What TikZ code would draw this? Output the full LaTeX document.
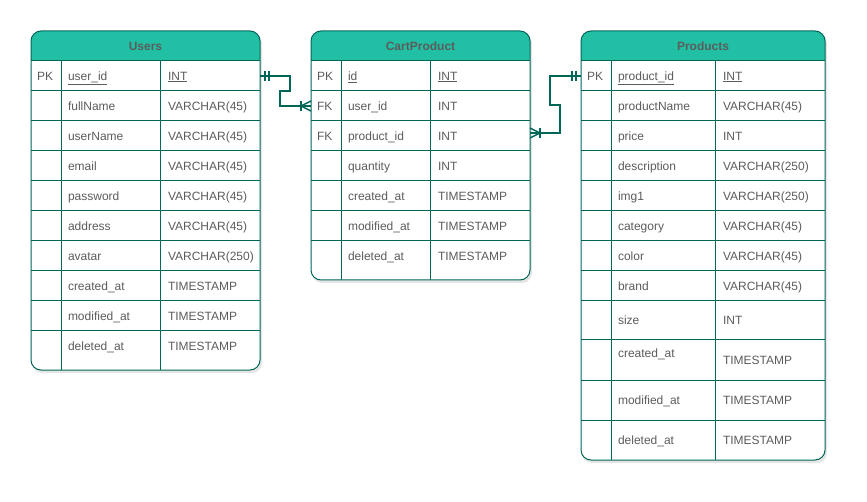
\documentclass[tikz,border=0pt]{standalone}
\usepackage{fontspec}
\setmainfont{Liberation Sans}
\definecolor{hdr}{HTML}{21C0A5}
\definecolor{edgec}{HTML}{006658}
\definecolor{txt}{HTML}{5C5C5C}
\tikzset{
 frame/.style={draw=edgec, line width=1pt, rounded corners=10pt},
 gridline/.style={draw=edgec, line width=1pt},
 cell/.style={inner sep=0pt, outer sep=0pt, text=txt, font=\fontsize{12}{14}\selectfont, anchor=base west},
 titletext/.style={inner sep=0pt, text=txt, font=\fontsize{12}{14}\selectfont\bfseries},
 rowbox/.style={inner sep=0pt, outer sep=0pt, minimum height=30pt},
 conn/.style={draw=edgec, line width=1.5pt},
 shade/.style={fill=black, opacity=0.10, rounded corners=10pt},
}
\begin{document}
\begin{tikzpicture}[x=1pt,y=-1pt]
\fill[white] (0,0) rectangle (867,502);
\useasboundingbox (0,0) rectangle (867,502);

% ---------------- Users ----------------
\fill[shade] (32,33) rectangle (262,373);
\fill[white, rounded corners=10pt] (31,31) rectangle (260,370);
\begin{scope}
\clip[rounded corners=10pt] (31,31) rectangle (260,370);
\fill[hdr] (31,31) rectangle (260,61);
\end{scope}
\foreach \yy in {61,91,...,331} \draw[gridline] (31,\yy) -- (260,\yy);
\draw[gridline] (61,61) -- (61,370);
\draw[gridline] (160,61) -- (160,370);
\draw[frame] (31,31) rectangle (260,370);
\node[titletext] (u-title) at (145.5,46) {Users};
\node[rowbox, minimum width=229pt] (u-r0) at (145.5,76) {};
\node[cell] (u-pk) at (37,80.3) {PK};
\node[cell] (u-n0) at (68,80.3) {\underline{user\_id}};
\node[cell] (u-t0) at (168,80.3) {\underline{INT}};
\foreach \n/\t [count=\i] in {fullName/VARCHAR(45), userName/VARCHAR(45), email/VARCHAR(45), password/VARCHAR(45), address/VARCHAR(45), avatar/VARCHAR(250), created\_at/TIMESTAMP, modified\_at/TIMESTAMP, deleted\_at/TIMESTAMP} {
  \node[rowbox, minimum width=229pt] (u-r\i) at (145.5,{76+30*\i}) {};
  \node[cell] (u-n\i) at (68,{80.3+30*\i}) {\n};
  \node[cell] (u-t\i) at (168,{80.3+30*\i}) {\t};
}

% ---------------- CartProduct ----------------
\fill[shade] (312,33) rectangle (532,283);
\fill[white, rounded corners=10pt] (311,31) rectangle (530,280);
\begin{scope}
\clip[rounded corners=10pt] (311,31) rectangle (530,280);
\fill[hdr] (311,31) rectangle (530,61);
\end{scope}
\foreach \yy in {61,91,...,241} \draw[gridline] (311,\yy) -- (530,\yy);
\draw[gridline] (341,61) -- (341,280);
\draw[gridline] (430,61) -- (430,280);
\draw[frame] (311,31) rectangle (530,280);
\node[titletext] (c-title) at (420.5,46) {CartProduct};
\node[rowbox, minimum width=219pt] (c-r0) at (420.5,76) {};
\node[cell] (c-pk) at (317,80.3) {PK};
\node[cell] (c-n0) at (348,80.3) {\underline{id}};
\node[cell] (c-t0) at (438,80.3) {\underline{INT}};
\node[cell] (c-fk1) at (317,110.3) {FK};
\node[cell] (c-fk2) at (317,140.3) {FK};
\foreach \n/\t [count=\i] in {user\_id/INT, product\_id/INT, quantity/INT, created\_at/TIMESTAMP, modified\_at/TIMESTAMP, deleted\_at/TIMESTAMP} {
  \node[rowbox, minimum width=219pt] (c-r\i) at (420.5,{76+30*\i}) {};
  \node[cell] (c-n\i) at (348,{80.3+30*\i}) {\n};
  \node[cell] (c-t\i) at (438,{80.3+30*\i}) {\t};
}

% ---------------- Products ----------------
\fill[shade] (582,33) rectangle (827,463);
\fill[white, rounded corners=10pt] (581,31) rectangle (825,460);
\begin{scope}
\clip[rounded corners=10pt] (581,31) rectangle (825,460);
\fill[hdr] (581,31) rectangle (825,61);
\end{scope}
\foreach \yy in {61,91,...,301,340,380,420} \draw[gridline] (581,\yy) -- (825,\yy);
\draw[gridline] (611,61) -- (611,460);
\draw[gridline] (715,61) -- (715,460);
\draw[frame] (581,31) rectangle (825,460);
\node[titletext] (p-title) at (703,46) {Products};
\node[rowbox, minimum width=244pt] (p-r0) at (703,76) {};
\node[cell] (p-pk) at (587,80.3) {PK};
\node[cell] (p-n0) at (618,80.3) {\underline{product\_id}};
\node[cell] (p-t0) at (723,80.3) {\underline{INT}};
\foreach \n/\t [count=\i] in {productName/VARCHAR(45), price/INT, description/VARCHAR(250), img1/VARCHAR(250), category/VARCHAR(45), color/VARCHAR(45), brand/VARCHAR(45)} {
  \node[cell] (p-n\i) at (618,{80.3+30*\i}) {\n};
  \node[cell] (p-t\i) at (723,{80.3+30*\i}) {\t};
}
\node[cell] (p-n9) at (618,324.8) {size};
\node[cell] (p-t9) at (723,324.8) {INT};
\node[cell] (p-n10) at (618,357.3) {created\_at};
\node[cell] (p-t10) at (723,364.8) {TIMESTAMP};
\node[cell] (p-n11) at (618,404.3) {modified\_at};
\node[cell] (p-t11) at (723,404.3) {TIMESTAMP};
\node[cell] (p-n12) at (618,444.3) {deleted\_at};
\node[cell] (p-t12) at (723,444.3) {TIMESTAMP};

% ---------------- Connectors ----------------
% Users.user_id -> CartProduct.user_id
\draw[conn] (u-r0.east) -- ++(30,0) -- ++(0,15) -- ++(-10,0) |- (c-r1.west);
\draw[conn] ([xshift=5pt]u-r0.east) ++(0,-5) -- ++(0,10);
\draw[conn] ([xshift=9pt]u-r0.east) ++(0,-5) -- ++(0,10);
\draw[conn] ([xshift=-10pt]c-r1.west) -- ([yshift=5pt]c-r1.west);
\draw[conn] ([xshift=-10pt]c-r1.west) -- ([yshift=-5pt]c-r1.west);
\draw[conn] ([xshift=-10pt]c-r1.west) ++(0,-5) -- ++(0,10);

% CartProduct.product_id -> Products.product_id
\draw[conn] ([yshift=3pt]c-r2.east) -- ++(30,0) -- ++(0,-28) -- ++(-10,0) |- (p-r0.west);
\draw[conn] ([xshift=10pt,yshift=3pt]c-r2.east) -- ([yshift=8pt]c-r2.east);
\draw[conn] ([xshift=10pt,yshift=3pt]c-r2.east) -- ([yshift=-2pt]c-r2.east);
\draw[conn] ([xshift=10pt,yshift=3pt]c-r2.east) ++(0,-5) -- ++(0,10);
\draw[conn] ([xshift=-5pt]p-r0.west) ++(0,-5) -- ++(0,10);
\draw[conn] ([xshift=-9pt]p-r0.west) ++(0,-5) -- ++(0,10);
\end{tikzpicture}
\end{document}
